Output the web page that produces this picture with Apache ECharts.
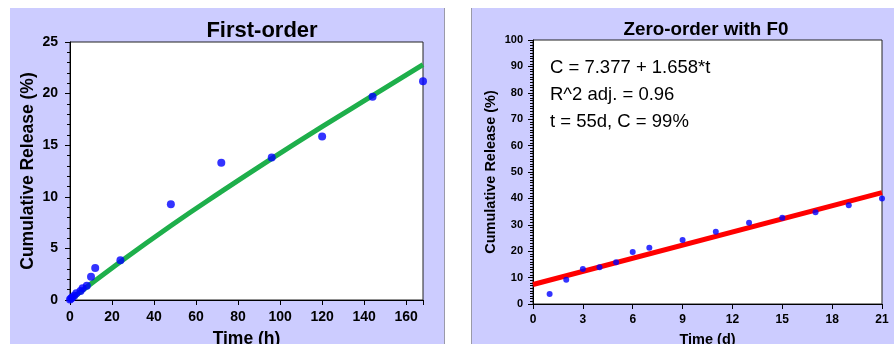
<!DOCTYPE html>
<html><head><meta charset="utf-8">
<script src="https://cdn.jsdelivr.net/npm/echarts@6/dist/echarts.min.js"></script>
<style>html,body{margin:0;padding:0;background:#fff}#c{width:894px;height:344px}</style>
</head><body><div id="c"></div>
<script>
// Left panel: First-order
const firstTime = [0, 0.5, 1, 2, 3, 5, 6, 8, 10, 12, 24, 48, 72, 96, 120, 144, 168];
const firstRelease = [0.05, 0.15, 0.25, 0.4, 0.65, 0.87, 1.13, 1.39, 2.26, 3.1, 3.84, 9.29, 13.3, 13.8, 15.84, 19.7, 21.2];
const firstFitTime = [0, 24, 48, 72, 96, 120, 144, 168];
const firstFitRelease = [0, 3.7, 7.2, 10.5, 13.7, 16.8, 19.8, 22.8];
const firstXTicks = [0, 20, 40, 60, 80, 100, 120, 140, 160];

// Right panel: Zero-order with F0
const zeroTime = [1, 2, 3, 4, 5, 6, 7, 9, 11, 13, 15, 17, 19, 21];
const zeroRelease = [3.8, 9.2, 13.3, 13.9, 15.8, 19.7, 21.3, 24.2, 27.4, 30.8, 32.7, 34.8, 37.4, 40.0];
const zeroFitTime = [0, 21];
const zeroFitRelease = [7.377, 42.2];
const zeroNotes = ['C = 7.377 + 1.658*t', 'R^2 adj. = 0.96', 't = 55d, C = 99%'];

const FONT = '"Liberation Sans", Arial, sans-serif';
const chart = echarts.init(document.getElementById('c'), null, {renderer: 'canvas'});

function pairs(xs, ys) { return xs.map((x, i) => [x, ys[i]]); }

const axisBase = {
  axisLine: {show: true, lineStyle: {color: '#000', width: 1}},
  splitLine: {show: false},
  axisTick: {show: true, inside: false, length: 5, lineStyle: {color: '#000'}},
};

chart.setOption({
  animation: false,
  backgroundColor: '#fff',
  graphic: [
    {type: 'rect', z: -10, shape: {x: 10, y: 8, width: 434, height: 340}, style: {fill: '#CCCCFF'}},
    {type: 'rect', z: -10, shape: {x: 471, y: 8, width: 430, height: 340}, style: {fill: '#CCCCFF'}},
    {type: 'line', z: -9, shape: {x1: 444.5, y1: 8, x2: 444.5, y2: 344}, style: {stroke: '#9a9aa8', lineWidth: 1}},
    {type: 'line', z: -9, shape: {x1: 471.5, y1: 8, x2: 471.5, y2: 344}, style: {stroke: '#9a9aa8', lineWidth: 1}},
    ...zeroNotes.map((t, i) => ({
      type: 'text', z: 10, left: 550, top: 58 + i * 27,
      style: {text: t, fontFamily: FONT, fontSize: 18.5, fill: '#000'}
    }))
  ],
  title: [
    {text: 'First-order', left: 257, top: 15, textAlign: 'center',
     textStyle: {fontFamily: FONT, fontSize: 22, fontWeight: 'bold', color: '#000'}},
    {text: 'Zero-order with F0', left: 701, top: 15, textAlign: 'center',
     textStyle: {fontFamily: FONT, fontSize: 18.8, fontWeight: 'bold', color: '#000'}}
  ],
  grid: [
    {left: 70, top: 42, width: 353, height: 258, show: true, backgroundColor: '#fff', borderColor: '#222', borderWidth: 1,
     containLabel: false, outerBoundsMode: 'none'},
    {left: 533, top: 40, width: 349, height: 264, show: true, backgroundColor: '#fff', borderColor: '#222', borderWidth: 1,
     containLabel: false, outerBoundsMode: 'none'}
  ],
  xAxis: [
    Object.assign({}, axisBase, {
      gridIndex: 0, type: 'value', min: 0, max: 168, interval: 20,
      name: 'Time (h)', nameLocation: 'middle', nameGap: 30,
      nameTextStyle: {fontFamily: FONT, fontSize: 17.5, fontWeight: 'bold', color: '#000'},
      axisLabel: {margin: 10, fontFamily: FONT, fontSize: 14, fontWeight: 'bold', color: '#000',
        formatter: v => firstXTicks.includes(v) ? String(v) : ''}
    }),
    Object.assign({}, axisBase, {
      gridIndex: 1, type: 'value', min: 0, max: 21, interval: 3,
      name: 'Time (d)', nameLocation: 'middle', nameGap: 28,
      nameTextStyle: {fontFamily: FONT, fontSize: 14.5, fontWeight: 'bold', color: '#000'},
      axisLabel: {margin: 10, fontFamily: FONT, fontSize: 12, fontWeight: 'bold', color: '#000'}
    })
  ],
  yAxis: [
    Object.assign({}, axisBase, {
      gridIndex: 0, type: 'value', min: 0, max: 25, interval: 5,
      name: 'Cumulative Release (%)', nameLocation: 'middle', nameGap: 33,
      nameTextStyle: {fontFamily: FONT, fontSize: 17.5, fontWeight: 'bold', color: '#000'},
      minorTick: {show: true, splitNumber: 5, length: 3, lineStyle: {color: '#000'}},
      axisLabel: {margin: 12, fontFamily: FONT, fontSize: 14, fontWeight: 'bold', color: '#000'}
    }),
    Object.assign({}, axisBase, {
      gridIndex: 1, type: 'value', min: 0, max: 100, interval: 10,
      name: 'Cumulative Release (%)', nameLocation: 'middle', nameGap: 35,
      nameTextStyle: {fontFamily: FONT, fontSize: 14.5, fontWeight: 'bold', color: '#000'},
      minorTick: {show: true, splitNumber: 10, length: 3, lineStyle: {color: '#000'}},
      axisLabel: {margin: 10, fontFamily: FONT, fontSize: 11, fontWeight: 'bold', color: '#000'}
    })
  ],
  series: [
    {type: 'line', xAxisIndex: 0, yAxisIndex: 0, data: pairs(firstFitTime, firstFitRelease),
     showSymbol: false, smooth: true, lineStyle: {color: '#1EAF4B', width: 5}, z: 2},
    {type: 'scatter', xAxisIndex: 0, yAxisIndex: 0, data: pairs(firstTime, firstRelease),
     symbolSize: 8, itemStyle: {color: '#0000FF'}, z: 3},
    {type: 'line', xAxisIndex: 1, yAxisIndex: 1, data: pairs(zeroFitTime, zeroFitRelease),
     showSymbol: false, lineStyle: {color: '#FF0000', width: 5}, z: 2},
    {type: 'scatter', xAxisIndex: 1, yAxisIndex: 1, data: pairs(zeroTime, zeroRelease),
     symbolSize: 6, itemStyle: {color: '#0000FF'}, z: 3}
  ]
});
</script></body></html>
